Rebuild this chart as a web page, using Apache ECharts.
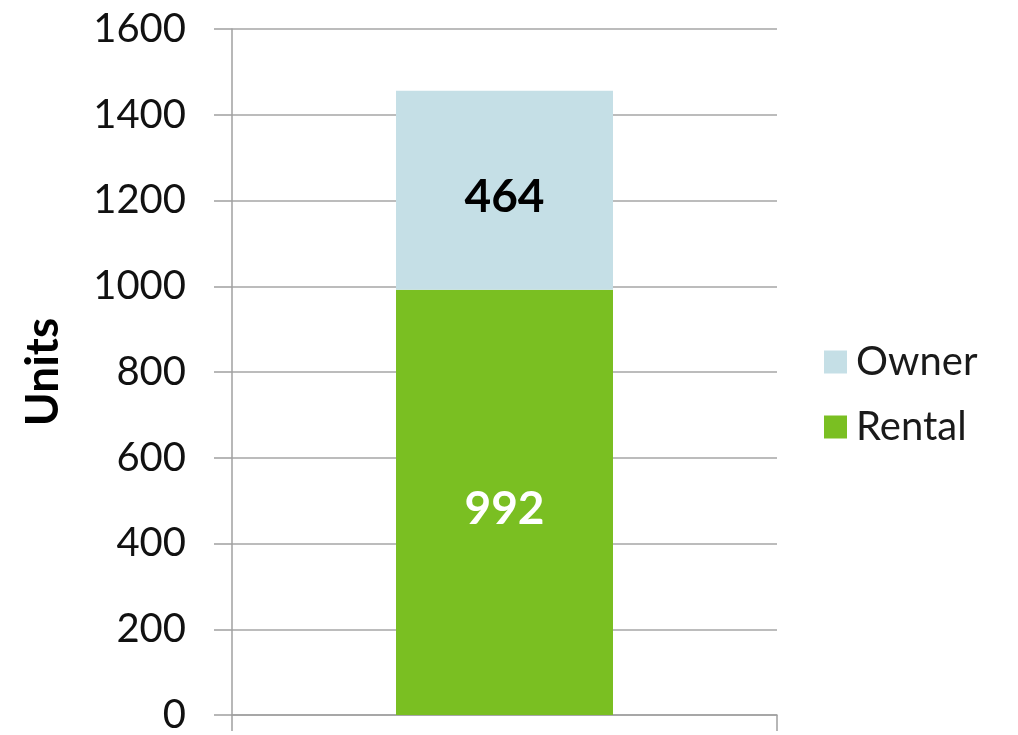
<!DOCTYPE html>
<html>
<head>
<meta charset="utf-8">
<script src="https://cdn.jsdelivr.net/npm/echarts@6/dist/echarts.min.js"></script>
<style>
  html, body { margin: 0; padding: 0; background: #ffffff; }
  #chart { width: 1018px; height: 735px; }
</style>
</head>
<body>
<div id="chart"></div>
<script>
// Housing units by tenure, stacked in a single column
const categories = [''];
const rentalUnits = [992];
const ownerUnits = [464];
const yTicks = { min: 0, max: 1600, interval: 200 };

const FONT = 'Lato, "Open Sans", sans-serif';
const GREEN = '#7abf22';
const LIGHT_BLUE = '#c5dfe6';

const chart = echarts.init(document.getElementById('chart'), null, { renderer: 'canvas' });

chart.setOption({
  backgroundColor: '#ffffff',
  animation: false,
  grid: { left: 232, right: 241, top: 29, bottom: 18, containLabel: false },
  legend: {
    orient: 'vertical',
    left: 824,
    top: 342,
    padding: 0,
    itemWidth: 23,
    itemHeight: 23,
    itemGap: 25,
    icon: 'rect',
    data: ['Owner', 'Rental'],
    textStyle: { fontFamily: FONT, fontSize: 40, color: '#1a1a1a', padding: [0, 0, 0, 4] }
  },
  xAxis: {
    type: 'category',
    data: categories,
    axisLine: { show: true, lineStyle: { color: '#a0a0a0', width: 1.5 } },
    axisTick: { show: true, alignWithLabel: false, length: 16, lineStyle: { color: '#a0a0a0', width: 1.5 } },
    axisLabel: { show: false },
    splitLine: { show: false }
  },
  yAxis: {
    type: 'value',
    min: yTicks.min,
    max: yTicks.max,
    interval: yTicks.interval,
    name: 'Units',
    nameLocation: 'middle',
    nameGap: 166,
    nameRotate: 90,
    nameTextStyle: { fontFamily: FONT, fontSize: 46, fontWeight: 'bold', color: '#000000' },
    axisLine: { show: true, lineStyle: { color: '#a0a0a0', width: 1.5 } },
    axisTick: { show: true, inside: false, length: 18, lineStyle: { color: '#a0a0a0', width: 1.5 } },
    axisLabel: {
      margin: 46,
      fontFamily: FONT,
      fontSize: 40,
      color: '#111111',
      formatter: (v) => String(v)
    },
    splitLine: { show: true, lineStyle: { color: '#a6a6a6', width: 1.5 } }
  },
  series: [
    {
      name: 'Rental',
      type: 'bar',
      stack: 'units',
      barWidth: 217,
      data: rentalUnits,
      itemStyle: { color: GREEN },
      label: {
        show: true,
        position: 'inside',
        offset: [0, 7],
        fontFamily: FONT,
        fontSize: 46,
        fontWeight: 'bold',
        color: '#ffffff'
      }
    },
    {
      name: 'Owner',
      type: 'bar',
      stack: 'units',
      barWidth: 217,
      data: ownerUnits,
      itemStyle: { color: LIGHT_BLUE },
      label: {
        show: true,
        position: 'inside',
        offset: [0, 7],
        fontFamily: FONT,
        fontSize: 46,
        fontWeight: 'bold',
        color: '#000000'
      }
    }
  ]
});
</script>
</body>
</html>
